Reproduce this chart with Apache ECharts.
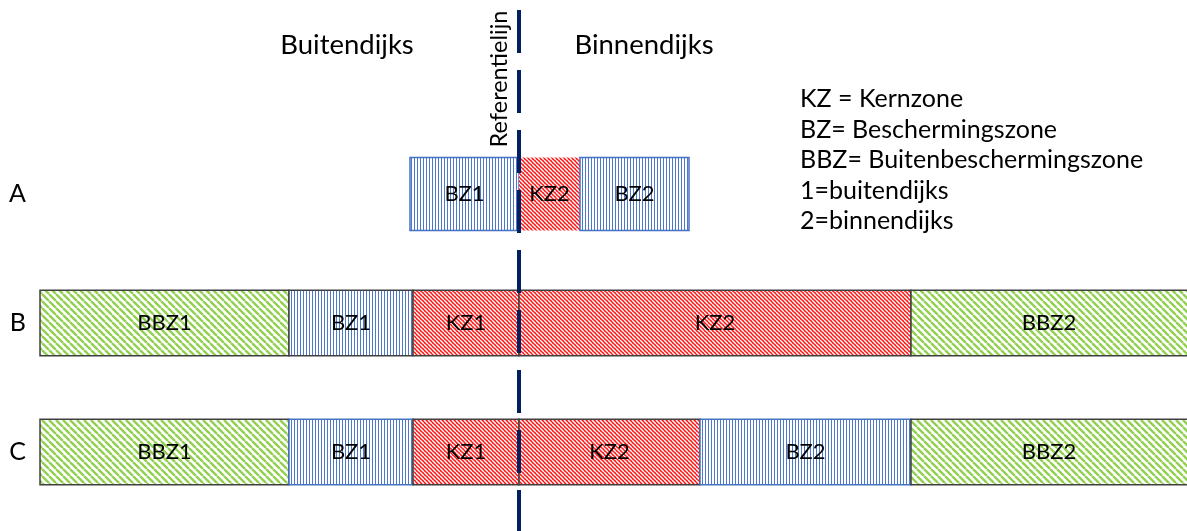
<!DOCTYPE html>
<html>
<head>
<meta charset="utf-8">
<script src="https://cdn.jsdelivr.net/npm/echarts@6/dist/echarts.min.js"></script>
<style>
  html, body { margin: 0; padding: 0; background: #fff; }
  #chart { width: 1187px; height: 531px; }
</style>
</head>
<body>
<div id="chart"></div>
<script>
// rijen
const rowCategories = ['A', 'B', 'C'];

// zones per rij, grenzen t.o.v. de referentielijn (0)
const zonesA = ['BZ1', 'KZ2', 'BZ2'];
const edgesA = [-109, 0, 61, 170];
const zonesB = ['BBZ1', 'BZ1', 'KZ1', 'KZ2', 'BBZ2'];
const edgesB = [-479, -230, -106, 0, 392, 675];
const zonesC = ['BBZ1', 'BZ1', 'KZ1', 'KZ2', 'BZ2', 'BBZ2'];
const edgesC = [-479, -230, -106, 0, 181, 392, 675];

const referencePosition = 0;

const legendLines = [
  'KZ = Kernzone',
  'BZ= Beschermingszone',
  'BBZ= Buitenbeschermingszone',
  '1=buitendijks',
  '2=binnendijks'
];

// segmenten opbouwen: [start, eind, rij]
const segments = [];
const segmentNames = [];
[[zonesA, edgesA], [zonesB, edgesB], [zonesC, edgesC]].forEach(([zones, edges], row) => {
  zones.forEach((name, i) => {
    segments.push([edges[i], edges[i + 1], row]);
    segmentNames.push(name);
  });
});

// arceringen
function makePattern (w, h, bg, draw) {
  const c = document.createElement('canvas');
  c.width = w;
  c.height = h;
  const ctx = c.getContext('2d');
  ctx.fillStyle = bg;
  ctx.fillRect(0, 0, w, h);
  draw(ctx);
  return { image: c, repeat: 'repeat' };
}
function diagonal (ctx, s, color, width) {
  ctx.strokeStyle = color;
  ctx.lineWidth = width;
  ctx.beginPath();
  for (let k = -1; k <= 1; k++) {
    ctx.moveTo(k * s, 0);
    ctx.lineTo(k * s + s, s);
  }
  ctx.stroke();
}
const greenFill = makePattern(7, 7, '#ffffff', ctx => diagonal(ctx, 7, '#92d050', 2.4));
const redFill = makePattern(4, 4, '#ff1a1a', ctx => diagonal(ctx, 4, '#ffffff', 1.4));
const blueFill = makePattern(3, 1, '#ffffff', ctx => {
  ctx.fillStyle = '#4d78cc';
  ctx.fillRect(0, 0, 1, 1);
});

function fillFor (name) {
  if (name.startsWith('BBZ')) return greenFill;
  if (name.startsWith('BZ')) return blueFill;
  return redFill;
}
function strokeFor (name, row) {
  if (row === 0) return name.startsWith('BZ') ? '#4472c4' : null;
  if (row === 2 && name.startsWith('BZ')) return '#4472c4';
  return '#404040';
}

function renderZone (params, api) {
  const row = api.value(2);
  const p0 = api.coord([api.value(0), row]);
  const p1 = api.coord([api.value(1), row]);
  const band = api.size([0, 1])[1];
  const h = band * (row === 0 ? 0.565 : 0.508);
  const name = segmentNames[params.dataIndex];
  const stroke = strokeFor(name, row);
  return {
    type: 'group',
    z2: name.startsWith('BZ') ? 2 : 1,
    children: [
      {
        type: 'rect',
        shape: { x: p0[0], y: p0[1] - h / 2, width: p1[0] - p0[0], height: h },
        style: { fill: fillFor(name), stroke: stroke, lineWidth: stroke ? 1.5 : 0 }
      },
      {
        type: 'text',
        style: {
          x: (p0[0] + Math.min(p1[0], params.coordSys.x + params.coordSys.width)) / 2,
          y: p0[1],
          text: name,
          align: 'center',
          verticalAlign: 'middle',
          fontFamily: 'Lato',
          fontSize: 22,
          fill: '#000'
        }
      }
    ]
  };
}

function renderReference (params, api) {
  const x = api.coord([api.value(0), 0])[0];
  return {
    type: 'line',
    shape: { x1: x, y1: 10, x2: x, y2: api.getHeight() },
    style: { stroke: '#002060', lineWidth: 4, lineDash: [43, 17] }
  };
}

const chart = echarts.init(document.getElementById('chart'));
const textStyle = { fontFamily: 'Lato', fill: '#000' };

chart.setOption({
  animation: false,
  grid: { left: 40, right: 0, top: 129.5, bottom: 14.5 },
  xAxis: {
    type: 'value',
    min: edgesB[0],
    max: 668,
    show: false
  },
  yAxis: {
    type: 'category',
    inverse: true,
    data: rowCategories,
    axisLine: { show: false },
    axisTick: { show: false },
    splitLine: { show: false },
    axisLabel: { fontFamily: 'Lato', fontSize: 25, color: '#000', margin: 14 }
  },
  graphic: [
    { type: 'text', x: 347, y: 45, style: Object.assign({ text: 'Buitendijks', fontSize: 27.5, align: 'center', verticalAlign: 'middle' }, textStyle) },
    { type: 'text', x: 644, y: 45, style: Object.assign({ text: 'Binnendijks', fontSize: 27.5, align: 'center', verticalAlign: 'middle' }, textStyle) },
    { type: 'text', x: 499, y: 79, rotation: Math.PI / 2, style: Object.assign({ text: 'Referentielijn', fontSize: 23.5, align: 'center', verticalAlign: 'middle' }, textStyle) }
  ].concat(legendLines.map((line, i) => ({
    type: 'text',
    x: 800,
    y: 99 + i * 30.5,
    style: Object.assign({ text: line, fontSize: 25, align: 'left', verticalAlign: 'middle' }, textStyle)
  }))),
  series: [
    {
      type: 'custom',
      renderItem: renderZone,
      encode: { x: [0, 1], y: 2 },
      data: segments,
      z: 2
    },
    {
      type: 'custom',
      renderItem: renderReference,
      encode: { x: 0 },
      data: [[referencePosition]],
      z: 5
    }
  ]
});
</script>
</body>
</html>
